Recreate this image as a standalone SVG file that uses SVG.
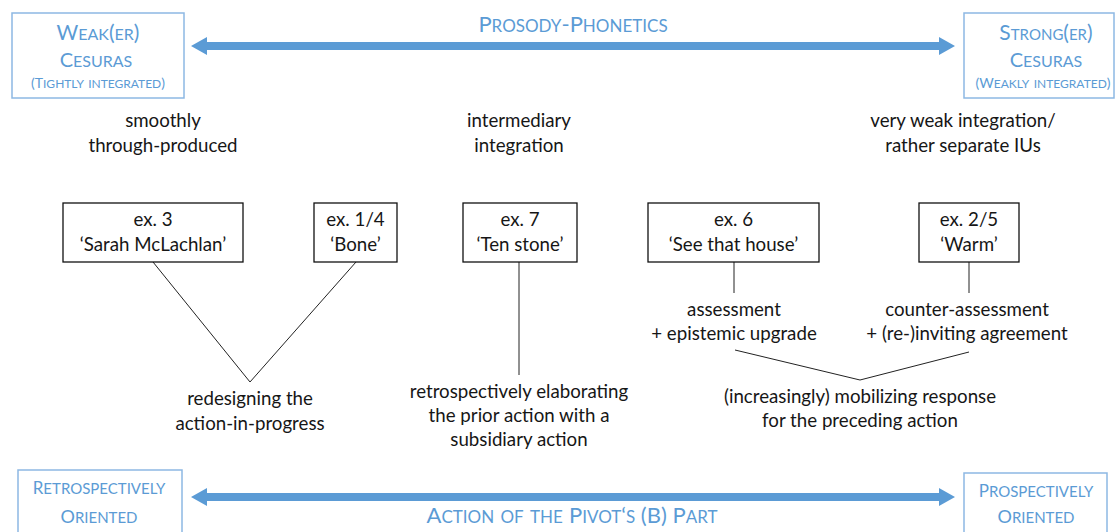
<svg xmlns="http://www.w3.org/2000/svg" width="1117" height="532" viewBox="0 0 1117 532">
<defs>
<style>
.bt{font-family:Lato,"Open Sans",sans-serif;fill:#5B9BD5;font-variant:small-caps;text-anchor:middle}
.t{font-family:Lato,"Open Sans",sans-serif;fill:#161616;font-size:18.7px;text-anchor:middle}
.bbox{fill:#fff;stroke:#8DB8E3;stroke-width:1.5}
.ex{fill:#fff;stroke:#111;stroke-width:1.3}
.ln{stroke:#222;stroke-width:1;fill:none}
.arr{fill:#5B9BD5}
</style>
</defs>
<rect width="1117" height="532" fill="#fff"/>
<g id="connectors">
<path class="arr" d="M191,46 L207,37 L207,42 L939,42 L939,37 L955,46 L939,55 L939,50 L207,50 L207,55 Z"/>
<path class="arr" d="M191,497 L207,488 L207,493 L939,493 L939,488 L955,497 L939,506 L939,501 L207,501 L207,506 Z"/>
<path class="ln" d="M153,262 L250,382 L356,262"/>
<path class="ln" d="M519,262 L519,375"/>
<path class="ln" d="M734,262 L734,293"/>
<path class="ln" d="M969,262 L969,293"/>
<path class="ln" d="M735,350 L860,380 L969,352"/>
</g>
<g id="weak">
<rect class="bbox" x="12" y="13" width="172" height="85"/>
<text class="bt" x="98" y="40" font-size="21">W<tspan font-size="23">eak</tspan>(<tspan font-size="23">er</tspan>)</text>
<text class="bt" x="96" y="67" font-size="20">C<tspan font-size="22.5">esuras</tspan></text>
<text class="bt" x="98" y="88" font-size="14">(T<tspan font-size="16.8">ightly integrated</tspan>)</text>
</g>
<g id="strong">
<rect class="bbox" x="964" y="13" width="150" height="85"/>
<text class="bt" x="1046" y="40" font-size="21">S<tspan font-size="22">trong</tspan>(<tspan font-size="22">er</tspan>)</text>
<text class="bt" x="1046" y="67" font-size="20">C<tspan font-size="22.5">esuras</tspan></text>
<text class="bt" x="1043" y="88" font-size="14">(W<tspan font-size="17.5">eakly integrated</tspan>)</text>
</g>
<g id="prosody">
<text class="bt" x="573" y="32" font-size="22">P<tspan font-size="24">rosody</tspan>-P<tspan font-size="24">honetics</tspan></text>
</g>
<g id="retro">
<rect class="bbox" x="18" y="470" width="164" height="70"/>
<text class="bt" x="99" y="494" font-size="17">R<tspan font-size="21">etrospectively</tspan></text>
<text class="bt" x="99" y="523" font-size="18">O<tspan font-size="21">riented</tspan></text>
</g>
<g id="pro">
<rect class="bbox" x="964" y="473" width="143" height="70"/>
<text class="bt" x="1036" y="497" font-size="17">P<tspan font-size="21.5">rospectively</tspan></text>
<text class="bt" x="1036" y="523" font-size="18">O<tspan font-size="21">riented</tspan></text>
</g>
<g id="action">
<text class="bt" x="572" y="523" font-size="22">A<tspan font-size="24.5">ction of the </tspan>P<tspan font-size="24.5">ivot</tspan>‘<tspan font-size="24.5">s</tspan> (B) P<tspan font-size="24.5">art</tspan></text>
</g>
<g id="smooth">
<text class="t" x="163" y="127">smoothly</text>
<text class="t" x="163" y="152">through-produced</text>
</g>
<g id="inter">
<text class="t" x="519" y="127">intermediary</text>
<text class="t" x="519" y="152">integration</text>
</g>
<g id="veryweak">
<text class="t" x="963" y="127">very weak integration/</text>
<text class="t" x="963" y="152">rather separate IUs</text>
</g>
<g id="ex3">
<rect class="ex" x="63" y="203" width="180" height="59"/>
<text class="t" x="153" y="226">ex. 3</text>
<text class="t" x="153" y="251">‘Sarah McLachlan’</text>
</g>
<g id="ex14">
<rect class="ex" x="314" y="203" width="83" height="59"/>
<text class="t" x="355.5" y="226">ex. 1/4</text>
<text class="t" x="355.5" y="251">‘Bone’</text>
</g>
<g id="ex7">
<rect class="ex" x="463" y="203" width="114" height="59"/>
<text class="t" x="520" y="226">ex. 7</text>
<text class="t" x="520" y="251">‘Ten stone’</text>
</g>
<g id="ex6">
<rect class="ex" x="648" y="203" width="171" height="59"/>
<text class="t" x="733.5" y="226">ex. 6</text>
<text class="t" x="733.5" y="251">‘See that house’</text>
</g>
<g id="ex25">
<rect class="ex" x="919" y="203" width="100" height="59"/>
<text class="t" x="969" y="226">ex. 2/5</text>
<text class="t" x="969" y="251">‘Warm’</text>
</g>
<g id="redesign">
<text class="t" x="250" y="405">redesigning the</text>
<text class="t" x="250" y="430">action-in-progress</text>
</g>
<g id="retroelab">
<text class="t" x="519" y="398">retrospectively elaborating</text>
<text class="t" x="519" y="422">the prior action with a</text>
<text class="t" x="519" y="446">subsidiary action</text>
</g>
<g id="assess">
<text class="t" x="734" y="316">assessment</text>
<text class="t" x="734" y="340">+ epistemic upgrade</text>
</g>
<g id="counter">
<text class="t" x="967" y="316">counter-assessment</text>
<text class="t" x="967" y="340">+ (re-)inviting agreement</text>
</g>
<g id="mobil">
<text class="t" x="860" y="403">(increasingly) mobilizing response</text>
<text class="t" x="860" y="427">for the preceding action</text>
</g>
</svg>
